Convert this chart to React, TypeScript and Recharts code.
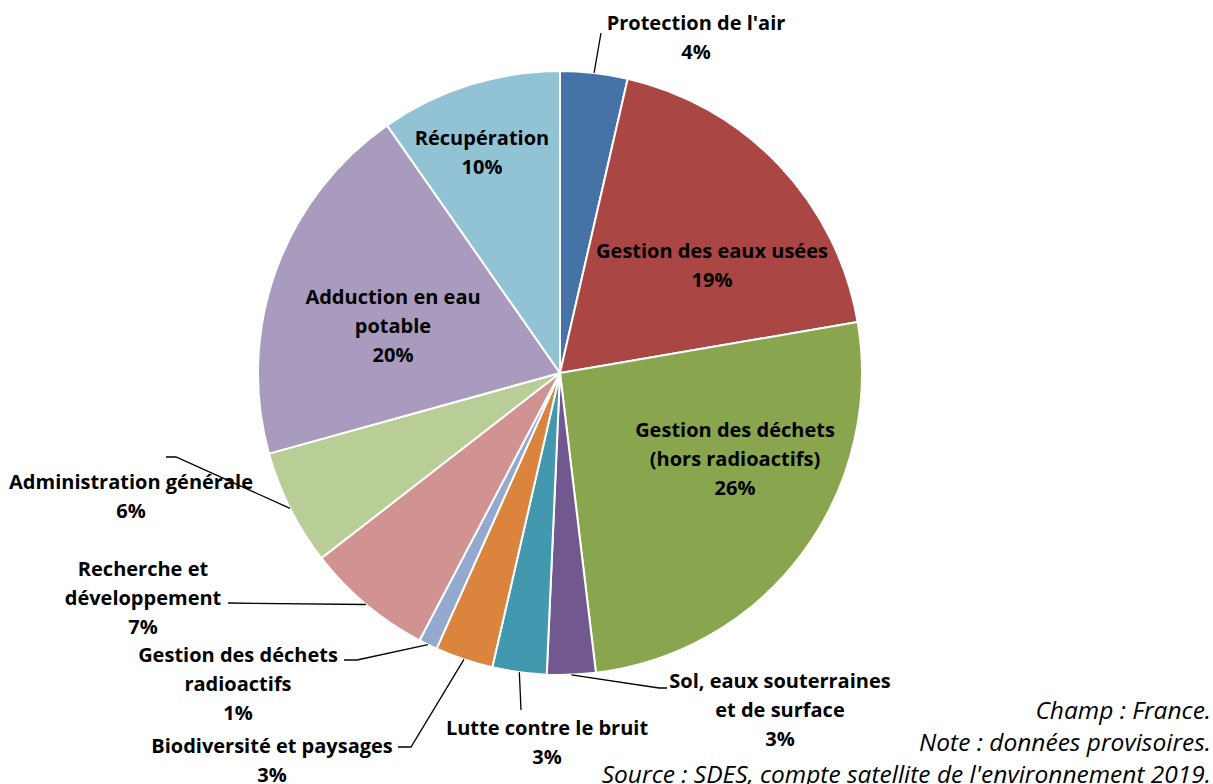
import { PieChart, Pie, Cell } from 'recharts'

// categories, clockwise from 12 o'clock ("\n" marks a line break in the label)
const categories = [
  "Protection de l'air",
  'Gestion des eaux usées',
  'Gestion des déchets\n(hors radioactifs)',
  'Sol, eaux souterraines\net de surface',
  'Lutte contre le bruit',
  'Biodiversité et paysages',
  'Gestion des déchets\nradioactifs',
  'Recherche et\ndéveloppement',
  'Administration générale',
  'Adduction en eau\npotable',
  'Récupération',
]
const shares = [3.6, 18.7, 25.8, 2.6, 2.9, 3.1, 1.0, 6.8, 6.2, 19.6, 9.7]
const colors = [
  '#4572A7', '#AA4643', '#89A54E', '#71588F', '#4198AF', '#DB843D',
  '#93A9CF', '#D19392', '#B9CD96', '#A99BBD', '#92C3D5',
]
const notes = [
  'Champ : France.',
  'Note : données provisoires.',
  "Source : SDES, compte satellite de l'environnement 2019.",
]

// label placement relative to the pie centre: text centre (first line) and leader elbow points
const labelLayout: { dx: number; dy: number; leader?: [number, number][] }[] = [
  { dx: 136, dy: -351, leader: [[41, -340]] },
  { dx: 152, dy: -123 },
  { dx: 175, dy: 56 },
  { dx: 220, dy: 307, leader: [[99, 315], [107, 315]] },
  { dx: -13, dy: 354, leader: [[-39, 337]] },
  { dx: -288, dy: 372, leader: [[-149, 374], [-162, 374]] },
  { dx: -322, dy: 281, leader: [[-203, 287], [-216, 287]] },
  { dx: -417, dy: 195, leader: [[-332, 230]] },
  { dx: -429, dy: 108, leader: [[-384, 84], [-394, 84]] },
  { dx: -167, dy: -77 },
  { dx: -78, dy: -236 },
]

const data = categories.map((name, i) => ({ name, value: shares[i] }))
const total = shares.reduce((a, b) => a + b, 0)

const FONT = '"Open Sans", Lato, sans-serif'
const RAD = Math.PI / 180

function renderLabel(props: any) {
  const { cx, cy, midAngle, outerRadius, index } = props
  const lay = labelLayout[index]
  const lines = [...categories[index].split('\n'), `${Math.round((shares[index] / total) * 100)}%`]
  const x = cx + lay.dx
  const y = cy + lay.dy
  let leader = null
  if (lay.leader) {
    const sx = cx + outerRadius * Math.cos(-midAngle * RAD)
    const sy = cy + outerRadius * Math.sin(-midAngle * RAD)
    const pts = [[sx, sy], ...lay.leader.map(([px, py]) => [cx + px, cy + py])]
    leader = <polyline points={pts.map((p) => p.join(',')).join(' ')} fill="none" stroke="#000" strokeWidth={1.3} />
  }
  return (
    <g key={`lab-${index}`}>
      {leader}
      <text x={x} y={y} textAnchor="middle" fontFamily={FONT} fontWeight={700} fontSize={20} fill="#000">
        {lines.map((l, i) => (
          <tspan key={i} x={x} y={y + i * 29} dominantBaseline="central">{l}</tspan>
        ))}
      </text>
    </g>
  )
}

export default function App() {
  return (
    <div style={{ position: 'absolute', left: 0, top: 0, width: 1213, height: 784, background: '#fff', overflow: 'hidden' }}>
      <PieChart width={1213} height={784} margin={{ top: 0, right: 0, bottom: 0, left: 0 }}>
        <Pie
          data={data}
          dataKey="value"
          nameKey="name"
          cx={560}
          cy={373}
          outerRadius={302}
          startAngle={90}
          endAngle={-270}
          stroke="#fff"
          strokeWidth={2}
          label={renderLabel}
          labelLine={false}
          isAnimationActive={false}
        >
          {data.map((d, i) => (
            <Cell key={d.name} fill={colors[i]} />
          ))}
        </Pie>
      </PieChart>
      <div
        style={{
          position: 'absolute', right: 2, top: 694, textAlign: 'right', whiteSpace: 'nowrap',
          fontFamily: FONT, fontStyle: 'italic', fontSize: 24.5, lineHeight: '32px', color: '#000',
        }}
      >
        {notes.map((n) => (
          <div key={n}>{n}</div>
        ))}
      </div>
    </div>
  )
}
